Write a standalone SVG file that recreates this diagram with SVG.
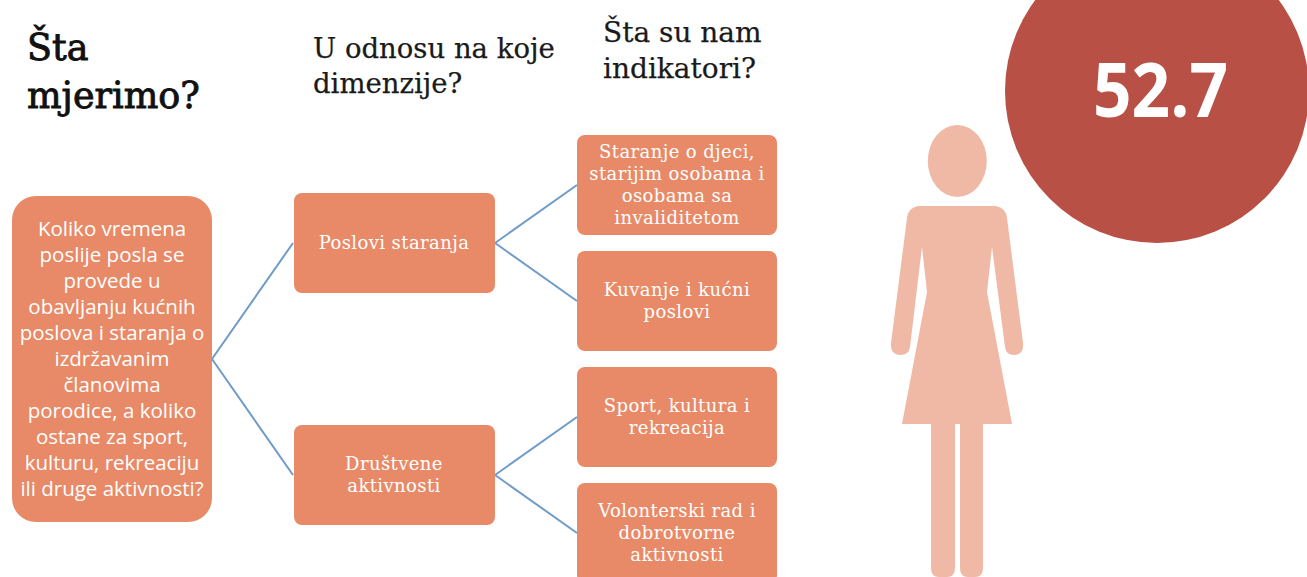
<svg xmlns="http://www.w3.org/2000/svg" width="1307" height="577" viewBox="0 0 1307 577">
<style>
.box{fill:#e88a67}
.h{font-family:"DejaVu Serif","Liberation Serif",serif;fill:#1a1a1a;stroke:#1a1a1a;stroke-width:.25}
.hb{stroke-width:.9;fill:#111;stroke:#111}
.t{font-family:"DejaVu Serif","Liberation Serif",serif;font-size:18px;letter-spacing:.4px;fill:#fff;text-anchor:middle}
.s{font-family:"Open Sans","Noto Sans",sans-serif;font-size:20.5px;fill:#fff;text-anchor:middle}
.c{fill:none;stroke:#6f9bc8;stroke-width:2}
.w{fill:#f0b9a6}
</style>
<rect width="1307" height="577" fill="#fff"/>
<text class="h hb" x="27" y="60" font-size="36.5">Šta</text>
<text class="h hb" x="27" y="108" font-size="36.5">mjerimo?</text>
<text class="h" x="313" y="58" font-size="27.5">U odnosu na koje</text>
<text class="h" x="313" y="93" font-size="27.5">dimenzije?</text>
<text class="h" x="603" y="42" font-size="28">Šta su nam</text>
<text class="h" x="603" y="78" font-size="28">indikatori?</text>
<g id="connectors">
<path class="c" d="M212 359L293 243M212 359L293 475M495 243L577 185M495 243L577 301M495 475L577 417M495 475L577 533"/>
</g>
<g id="n1"><rect class="box" x="12" y="196" width="200" height="326" rx="24"/>
<text class="s" x="112" y="236">Koliko vremena</text><text class="s" x="112" y="262">poslije posla se</text><text class="s" x="112" y="288">provede u</text><text class="s" x="112" y="314">obavljanju kućnih</text><text class="s" x="112" y="340">poslova i staranja o</text><text class="s" x="112" y="366">izdržavanim</text><text class="s" x="112" y="392">članovima</text><text class="s" x="112" y="418">porodice, a koliko</text><text class="s" x="112" y="444">ostane za sport,</text><text class="s" x="112" y="470">kulturu, rekreaciju</text><text class="s" x="112" y="496">ili druge aktivnosti?</text></g>
<g id="n2"><rect class="box" x="294" y="193" width="201" height="100" rx="8"/><text class="t" x="394" y="249">Poslovi staranja</text></g>
<g id="n3"><rect class="box" x="294" y="425" width="201" height="100" rx="8"/><text class="t" x="394" y="470">Društvene</text><text class="t" x="394" y="492">aktivnosti</text></g>
<g id="n4"><rect class="box" x="577" y="135" width="200" height="100" rx="8"/><text class="t" x="677" y="158">Staranje o djeci,</text><text class="t" x="677" y="180">starijim osobama i</text><text class="t" x="677" y="202">osobama sa</text><text class="t" x="677" y="224">invaliditetom</text></g>
<g id="n5"><rect class="box" x="577" y="251" width="200" height="100" rx="8"/><text class="t" x="677" y="296">Kuvanje i kućni</text><text class="t" x="677" y="318">poslovi</text></g>
<g id="n6"><rect class="box" x="577" y="367" width="200" height="100" rx="8"/><text class="t" x="677" y="412">Sport, kultura i</text><text class="t" x="677" y="434">rekreacija</text></g>
<g id="n7"><rect class="box" x="577" y="483" width="200" height="100" rx="8"/><text class="t" x="677" y="517">Volonterski rad i</text><text class="t" x="677" y="539">dobrotvorne</text><text class="t" x="677" y="561">aktivnosti</text></g>
<g id="woman"><ellipse class="w" cx="957.3" cy="161" rx="29.5" ry="36"/>
<path class="w" d="M918 206H996Q1006 208 1007 218L1023 343Q1024 355 1014 355Q1006 355 1005 347L992 247L987 292L1012 424H983V568Q983 577 975 577H968Q960 577 960 568V424H955V568Q955 577 947 577H939Q931 577 931 568V424H902L927 292L922 247L910 347Q909 355 900 355Q890 355 891 343L907 218Q908 208 918 206Z"/></g>
<g id="badge"><circle cx="1157" cy="91" r="152" fill="#b85045"/><text x="1160.5" y="117" font-family="Open Sans,Noto Sans,sans-serif" font-size="76" font-weight="700" fill="#fff" text-anchor="middle" textLength="135" lengthAdjust="spacingAndGlyphs">52.7</text></g>
</svg>
